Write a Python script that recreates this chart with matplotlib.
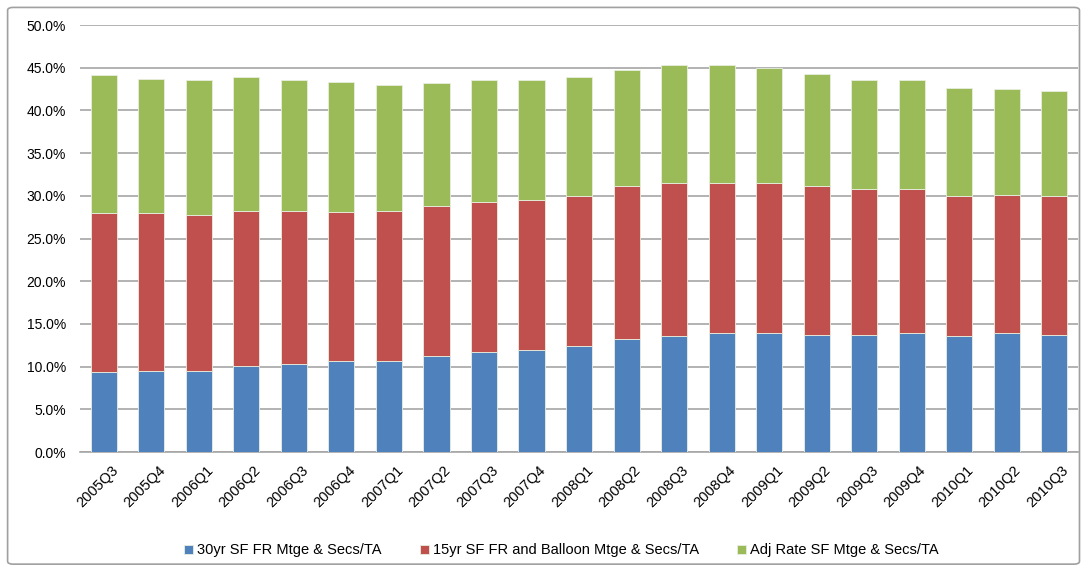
import numpy as np
import matplotlib.pyplot as plt
from matplotlib.patches import FancyBboxPatch
from matplotlib.ticker import FuncFormatter, MultipleLocator
from matplotlib.transforms import ScaledTranslation

quarters = ['2005Q3', '2005Q4', '2006Q1', '2006Q2', '2006Q3', '2006Q4', '2007Q1',
            '2007Q2', '2007Q3', '2007Q4', '2008Q1', '2008Q2', '2008Q3', '2008Q4',
            '2009Q1', '2009Q2', '2009Q3', '2009Q4', '2010Q1', '2010Q2', '2010Q3']

# share of total assets, percent
fr30 = [9.4, 9.5, 9.5, 10.1, 10.3, 10.6, 10.7, 11.3, 11.7, 12.0, 12.4, 13.2,
        13.6, 13.9, 13.9, 13.7, 13.7, 13.9, 13.6, 13.9, 13.7]
fr15_balloon = [18.55, 18.45, 18.3, 18.1, 17.9, 17.5, 17.5, 17.5, 17.6, 17.5, 17.55, 17.9,
                17.9, 17.6, 17.6, 17.4, 17.1, 16.9, 16.35, 16.2, 16.25]
adj_rate = [16.2, 15.75, 15.8, 15.7, 15.4, 15.2, 14.8, 14.4, 14.3, 14.1, 13.95, 13.6,
            13.8, 13.8, 13.45, 13.2, 12.8, 12.8, 12.65, 12.4, 12.35]

labels = ['30yr SF FR Mtge & Secs/TA', '15yr SF FR and Balloon Mtge & Secs/TA',
          'Adj Rate SF Mtge & Secs/TA']
colors = ['#4F81BD', '#C0504D', '#9BBB59']

plt.rcParams['font.family'] = ['Liberation Sans', 'DejaVu Sans']

fig = plt.figure(figsize=(10.86, 5.71), dpi=100)
ax = fig.add_axes([0.0737, 0.2084, 0.9190, 0.7478])

x = np.arange(len(quarters))
bottom = np.zeros(len(quarters))
for vals, lab, col in zip([fr30, fr15_balloon, adj_rate], labels, colors):
    ax.bar(x, vals, width=0.55, bottom=bottom, color=col, label=lab,
           edgecolor='#e8efe0', linewidth=0.6, zorder=3)
    bottom += np.array(vals)

ax.set_ylim(0, 50)
ax.set_xlim(-0.5, len(quarters) - 0.5)
ax.yaxis.set_major_locator(MultipleLocator(5))
ax.yaxis.set_major_formatter(FuncFormatter(lambda v, p: '%.1f%%' % v))
ax.grid(axis='y', color='#a6a6a6', linewidth=1.2, zorder=0)
for s in ['top', 'right', 'left']:
    ax.spines[s].set_visible(False)
ax.spines['bottom'].set_color('#a6a6a6')
ax.spines['bottom'].set_linewidth(1.2)
ax.tick_params(axis='y', length=0, labelsize=10, pad=10)
ax.tick_params(axis='x', length=0, labelsize=10.5, pad=8)
ax.set_xticks(x)
ax.set_xticklabels(quarters, rotation=45, ha='right', rotation_mode='anchor')
shift = ScaledTranslation(7 / 100, 0, fig.dpi_scale_trans)
for t in ax.get_xticklabels():
    t.set_transform(t.get_transform() + shift)

ax.legend(loc='center', bbox_to_anchor=(0.517, 0.036), bbox_transform=fig.transFigure,
          ncol=3, frameon=False, fontsize=10.5, handlelength=0.6, handleheight=0.6,
          handletextpad=0.3, columnspacing=2.6)

border = FancyBboxPatch((0.007, 0.012), 0.987, 0.975, boxstyle='round,pad=0,rounding_size=0.005',
                        transform=fig.transFigure, fill=False, edgecolor='#a0a0a0', linewidth=1.2)
fig.patches.append(border)

fig.savefig('out.png', dpi=100)
